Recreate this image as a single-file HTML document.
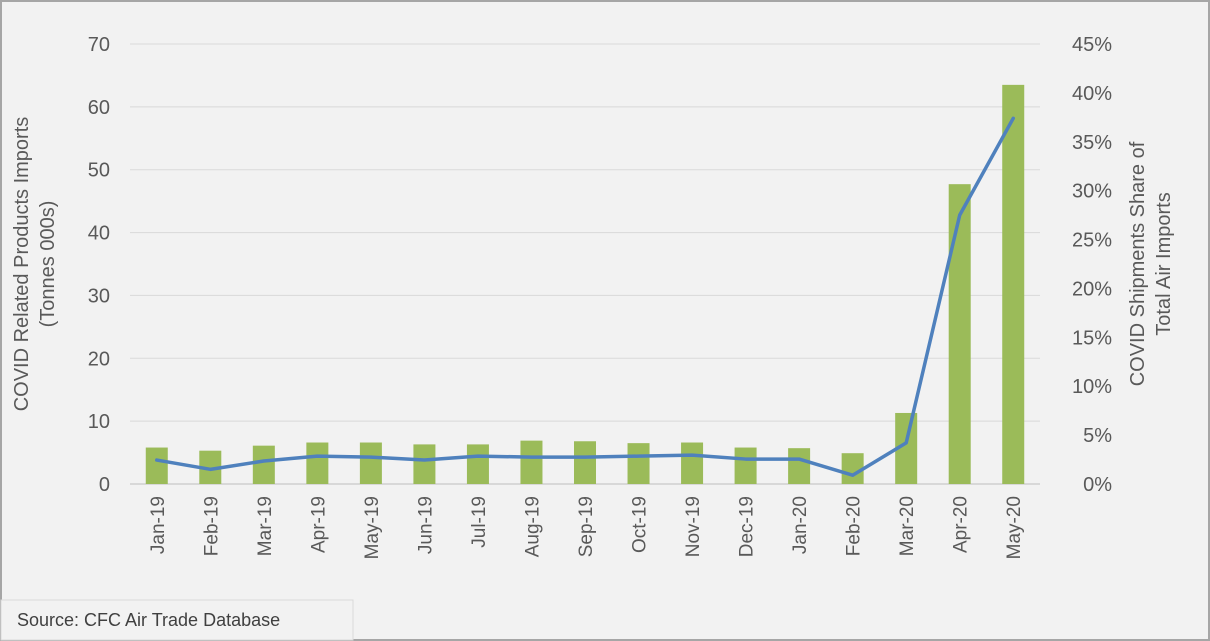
<!DOCTYPE html>
<html><head><meta charset="utf-8"><style>
html,body{margin:0;padding:0;background:#f2f2f2;}
svg{display:block;font-family:"Liberation Sans",sans-serif;}
</style></head><body>
<svg id="chart" width="1210" height="641">
<rect x="1" y="1" width="1208" height="639" fill="#f2f2f2" stroke="#a6a6a6" stroke-width="2"/>
<g id="grid"></g><g id="bars"></g><g id="line"></g><g id="axes"></g>
<text transform="translate(34,264) rotate(-90)" text-anchor="middle" font-size="20" fill="#595959"><tspan x="0" dy="-6">COVID Related Products Imports</tspan><tspan x="0" dy="26">(Tonnes 000s)</tspan></text>
<text transform="translate(1150,264) rotate(-90)" text-anchor="middle" font-size="20" fill="#595959"><tspan x="0" dy="-6">COVID Shipments Share of</tspan><tspan x="0" dy="26">Total Air Imports</tspan></text>
<rect x="1" y="600" width="352" height="40" fill="#f2f2f2" stroke="#d9d9d9"/>
<text x="17" y="626" font-size="18" fill="#404040">Source: CFC Air Trade Database</text>
</svg>
<script>
const categories=["Jan-19","Feb-19","Mar-19","Apr-19","May-19","Jun-19","Jul-19","Aug-19","Sep-19","Oct-19","Nov-19","Dec-19","Jan-20","Feb-20","Mar-20","Apr-20","May-20"];
const imports=[5.8,5.3,6.1,6.6,6.6,6.3,6.3,6.9,6.8,6.5,6.6,5.8,5.7,4.9,11.3,47.7,63.5];
const share=[2.45,1.5,2.35,2.85,2.75,2.45,2.85,2.75,2.75,2.85,2.95,2.55,2.55,0.9,4.2,27.5,37.4];
const leftTicks=[0,10,20,30,40,50,60,70];
const rightTicks=[0,5,10,15,20,25,30,35,40,45];
const NS="http://www.w3.org/2000/svg";
const x0=130,x1=1040,yTop=44,yBot=484;
const step=(x1-x0)/categories.length;
const xC=i=>x0+step*(i+0.5);
const yL=v=>yBot-(v/70)*(yBot-yTop);
const yR=v=>yBot-(v/45)*(yBot-yTop);
function mk(t,a,p){const e=document.createElementNS(NS,t);for(const k in a)e.setAttribute(k,a[k]);p.appendChild(e);return e;}
const grid=document.getElementById('grid'),bars=document.getElementById('bars'),line=document.getElementById('line'),axes=document.getElementById('axes');
leftTicks.forEach(v=>{
  const l=mk('line',{x1:x0,x2:x1,y1:yL(v),y2:yL(v),stroke:v===0?'#bfbfbf':'#d9d9d9','stroke-width':1},grid);
  
  
  const t=mk('text',{x:110,y:yL(v)+7,'text-anchor':'end','font-size':20,fill:'#595959'},axes);
  t.textContent=v;
  
  
});
rightTicks.forEach(v=>{
  const t=mk('text',{x:1112,y:yR(v)+7,'text-anchor':'end','font-size':20,fill:'#595959'},axes);
  t.textContent=v+'%';
  
  
});
imports.forEach((v,i)=>{
  const b=mk('rect',{x:xC(i)-11,y:yL(v),width:22,height:yBot-yL(v),fill:'#9bbb59'},bars);
  
  
});
const pts=share.map((v,i)=>xC(i)+','+yR(v)).join(' ');
const pl=mk('polyline',{points:pts,fill:'none',stroke:'#4f81bd','stroke-width':3.5,'stroke-linejoin':'round','stroke-linecap':'round'},line);


categories.forEach((c,i)=>{
  const t=mk('text',{transform:`translate(${xC(i)+7},496) rotate(-90)`,'text-anchor':'end','font-size':19,fill:'#595959'},axes);
  t.textContent=c;
  
  
});
</script>
</body></html>
